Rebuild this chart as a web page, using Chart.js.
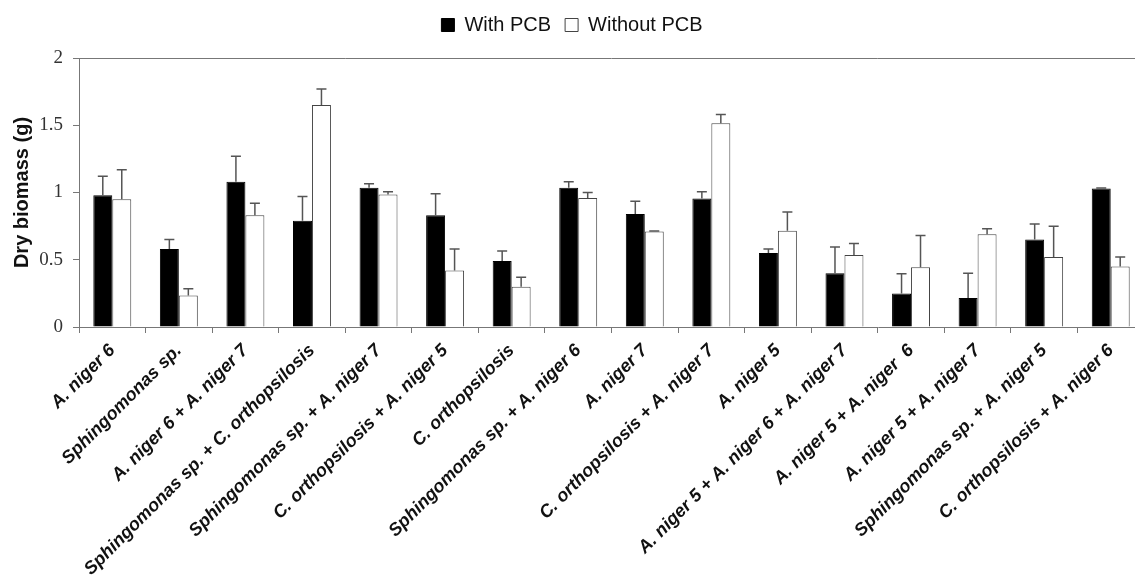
<!DOCTYPE html>
<html>
<head>
<meta charset="utf-8">
<script src="https://cdn.jsdelivr.net/npm/chart.js@4"></script>
<style>
  html, body { margin: 0; padding: 0; background: #fff; overflow: hidden; }
  #wrap { width: 1148px; height: 578px; position: relative; }
</style>
</head>
<body>
<div id="wrap"><canvas id="chart"></canvas></div>
<script>
// categorias (eixo x)
const strains = [
  'A. niger 6',
  'Sphingomonas sp.',
  'A. niger 6 + A. niger 7',
  'Sphingomonas sp. + C. orthopsilosis',
  'Sphingomonas sp. + A. niger 7',
  'C. orthopsilosis + A. niger 5',
  'C. orthopsilosis',
  'Sphingomonas sp. + A. niger 6',
  'A. niger 7',
  'C. orthopsilosis + A. niger 7',
  'A. niger 5',
  'A. niger 5 + A. niger 6 + A. niger 7',
  'A. niger 5 + A. niger  6',
  'A. niger 5 + A. niger 7',
  'Sphingomonas sp. + A. niger 5',
  'C. orthopsilosis + A. niger 6'
];

// biomassa seca (g)
const withPcb    = [0.98, 0.58, 1.08, 0.79, 1.035, 0.83, 0.49, 1.035, 0.84, 0.955, 0.55, 0.40, 0.25, 0.215, 0.65, 1.03];
const withoutPcb = [0.95, 0.235, 0.83, 1.65, 0.985, 0.42, 0.30, 0.96, 0.71, 1.515, 0.715, 0.535, 0.445, 0.69, 0.52, 0.45];

// desvio (só a parte de cima é desenhada)
const withPcbErr    = [0.14, 0.07, 0.19, 0.18, 0.03, 0.16, 0.075, 0.045, 0.095, 0.05, 0.03, 0.195, 0.145, 0.185, 0.115, 0.003];
const withoutPcbErr = [0.22, 0.05, 0.09, 0.12, 0.02, 0.16, 0.07, 0.04, 0.003, 0.065, 0.14, 0.085, 0.235, 0.04, 0.23, 0.07];

const yTicks = [0, 0.5, 1, 1.5, 2];

// barras de erro + linha de cima do quadro
const errorBars = {
  id: 'errorBars',
  beforeInit(chart) {
    // espaço extra abaixo da legenda
    const fit = chart.legend.fit;
    chart.legend.fit = function () {
      fit.call(this);
      this.height += 13;
    };
  },
  afterDatasetsDraw(chart) {
    const ctx = chart.ctx;
    const y = chart.scales.y;
    const errs = [withPcbErr, withoutPcbErr];
    ctx.save();
    ctx.strokeStyle = '#555';
    ctx.lineWidth = 1.5;
    chart.data.datasets.forEach((ds, i) => {
      const meta = chart.getDatasetMeta(i);
      meta.data.forEach((bar, j) => {
        const top = y.getPixelForValue(ds.data[j] + errs[i][j]);
        const base = y.getPixelForValue(ds.data[j]);
        ctx.beginPath();
        ctx.moveTo(bar.x, base);
        ctx.lineTo(bar.x, top);
        ctx.moveTo(bar.x - 5, top);
        ctx.lineTo(bar.x + 5, top);
        ctx.stroke();
      });
    });
    const a = chart.chartArea;
    ctx.strokeStyle = '#777';
    ctx.lineWidth = 1;
    ctx.beginPath();
    ctx.moveTo(a.left, a.top + 0.5);
    ctx.lineTo(a.right, a.top + 0.5);
    ctx.stroke();
    ctx.restore();
  }
};

new Chart(document.getElementById('chart').getContext('2d'), {
  type: 'bar',
  data: {
    labels: strains,
    datasets: [
      {
        label: 'With PCB',
        data: withPcb,
        backgroundColor: '#000',
        borderColor: '#000',
        borderWidth: 1
      },
      {
        label: 'Without PCB',
        data: withoutPcb,
        backgroundColor: '#fff',
        borderColor: '#444',
        borderWidth: 1
      }
    ]
  },
  options: {
    responsive: true,
    maintainAspectRatio: false,
    animation: false,
    layout: { padding: { top: 1, right: 4, left: 0, bottom: 0 } },
    categoryPercentage: 0.57,
    barPercentage: 1,
    plugins: {
      tooltip: { enabled: false },
      legend: {
        position: 'top',
        labels: {
          boxWidth: 13,
          boxHeight: 13,
          padding: 14,
          color: '#111',
          font: { family: '"Liberation Sans", Arial, sans-serif', size: 20 }
        }
      }
    },
    scales: {
      x: {
        grid: { display: true, drawOnChartArea: false, offset: true, tickLength: 6, color: '#777' },
        border: { color: '#777' },
        ticks: {
          autoSkip: false,
          minRotation: 45,
          maxRotation: 45,
          padding: 7,
          color: '#111',
          font: { family: '"Liberation Sans", Arial, sans-serif', size: 18, weight: 'bold', style: 'italic' }
        },
        afterFit(scale) { scale.height = 251; }
      },
      y: {
        min: 0,
        max: 2,
        afterBuildTicks(scale) { scale.ticks = yTicks.map(v => ({ value: v })); },
        grid: { display: true, drawOnChartArea: false, tickLength: 6, color: '#777' },
        border: { color: '#777' },
        ticks: {
          padding: 10,
          color: '#333',
          font: { family: '"Liberation Serif", "Times New Roman", serif', size: 19 },
          callback: v => String(v)
        },
        title: {
          display: true,
          text: 'Dry biomass (g)',
          color: '#111',
          padding: { top: 10, bottom: 0 },
          font: { family: '"Liberation Sans", Arial, sans-serif', size: 20, weight: 'bold' }
        },
        afterFit(scale) { scale.width = 79; }
      }
    }
  },
  plugins: [errorBars]
});
</script>
</body>
</html>
